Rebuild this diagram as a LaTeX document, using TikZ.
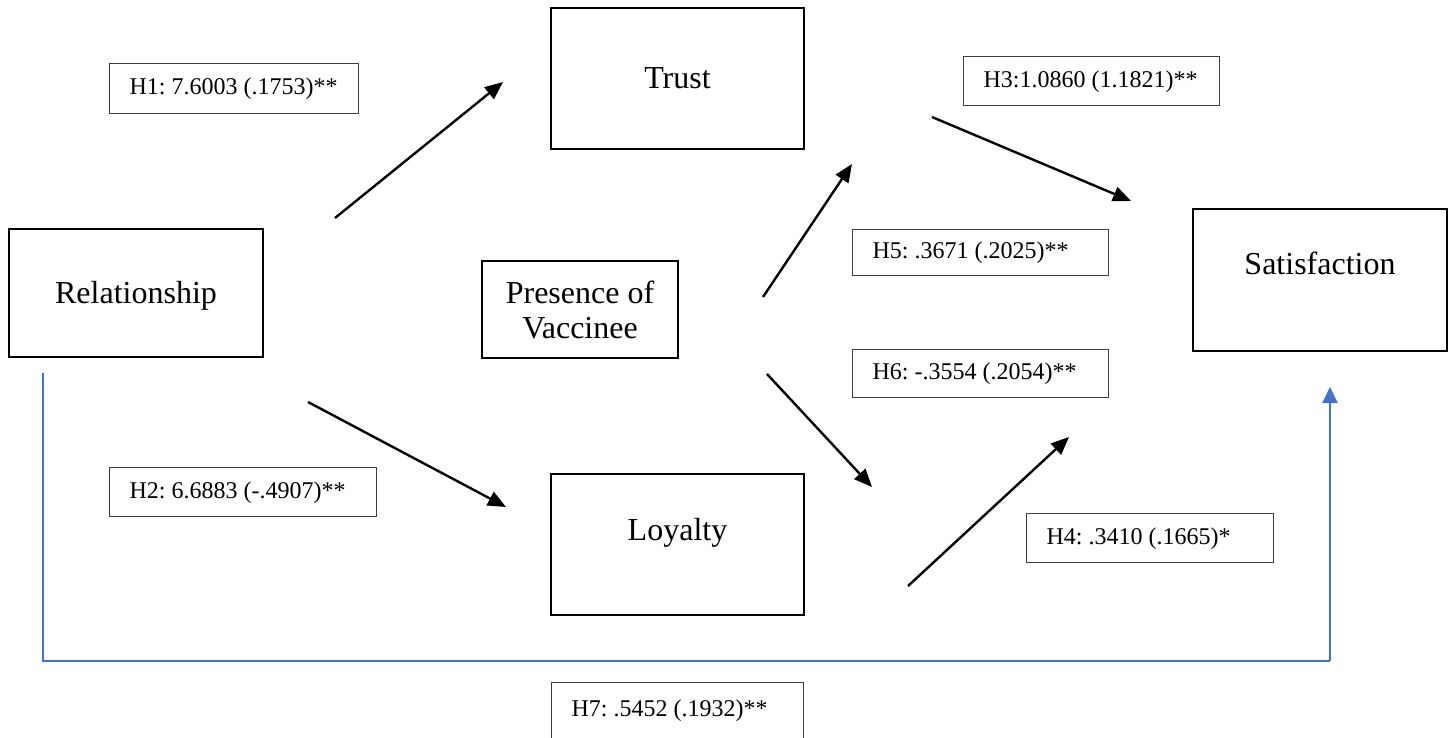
\documentclass[tikz,border=0pt]{standalone}
\usepackage{fontspec}
\setmainfont{Liberation Serif}
\usetikzlibrary{arrows.meta}
\definecolor{officeblue}{HTML}{4472C4}
\frenchspacing
\newcommand{\hyplab}[2]{\makebox[#1][l]{#2}}
\begin{document}
\begin{tikzpicture}[x=0.5pt,y=-0.5pt,
  mainbox/.style={draw, line width=1.4pt, font=\fontsize{16}{17.5}\selectfont, inner sep=0pt, align=center},
  hypbox/.style={draw=black!75, line width=0.65pt, anchor=north west, font=\fontsize{12}{14}\selectfont,
    inner xsep=10pt, inner ysep=0pt, text height=8pt, text depth=2pt},
  arrowline/.style={line width=1.2pt, -{Triangle[length=9pt,width=7.5pt]}},
  bluethin/.style={draw=officeblue, line width=0.6pt},
  bluearrow/.style={draw=officeblue, line width=1pt, -{Triangle[length=8pt,width=7.5pt]}, color=officeblue}
]
\useasboundingbox (0,0) rectangle (1452,738);
\clip (0,0) rectangle (1452,738);

% main boxes
\node[mainbox, minimum width=127pt, minimum height=64pt, text height=11pt, text depth=1pt] (rel) at (136,293) {Relationship};
\node[mainbox, minimum width=126.5pt, minimum height=70.5pt, text height=11pt, text depth=1pt] (trust) at (677.5,78.5) {Trust};
\node[mainbox, minimum width=98pt, minimum height=48.5pt] (pres) at (580,309.5) {Presence of\\Vaccinee};
\node[mainbox, minimum width=127pt, minimum height=71pt, text height=11pt, text depth=16.5pt] (sat) at (1320,280) {Satisfaction};
\node[mainbox, minimum width=126.5pt, minimum height=70.5pt, text height=11pt, text depth=15.5pt] (loy) at (677.5,544.5) {Loyalty};

% hypothesis labels
\node[hypbox, minimum height=25pt] (h1) at (109,63) {\hyplab{104.5pt}{H1: 7.6003 (.1753)**}};
\node[hypbox, minimum height=24.5pt] (h2) at (109,467) {\hyplab{113.5pt}{H2: 6.6883 (-.4907)**}};
\node[hypbox, minimum height=24.5pt] (h3) at (963,56) {\hyplab{108pt}{H3:1.0860 (1.1821)**}};
\node[hypbox, minimum height=24.5pt] (h4) at (1026,513) {\hyplab{103.5pt}{H4: .3410 (.1665)*}};
\node[hypbox, minimum height=23pt] (h5) at (852,229) {\hyplab{108pt}{H5: .3671 (.2025)**}};
\node[hypbox, minimum height=24pt] (h6) at (852,349) {\hyplab{108pt}{H6: -.3554 (.2054)**}};
\node[hypbox, minimum height=31.5pt, text height=9pt, text depth=6.5pt] (h7) at (551,682) {\hyplab{106pt}{H7: .5452 (.1932)**}};

% arrow end points
\coordinate (a1s) at (335,218); \coordinate (a1e) at (503,82);
\coordinate (a2s) at (308,402); \coordinate (a2e) at (506,507);
\coordinate (a3s) at (932,117); \coordinate (a3e) at (1131,201);
\coordinate (a5s) at (763,297); \coordinate (a5e) at (852,164);
\coordinate (a6s) at (767,374); \coordinate (a6e) at (872,487);
\coordinate (a4s) at (908,586); \coordinate (a4e) at (1069,437);

\draw[arrowline] (a1s) -- (a1e);
\draw[arrowline] (a2s) -- (a2e);
\draw[arrowline] (a3s) -- (a3e);
\draw[arrowline] (a5s) -- (a5e);
\draw[arrowline] (a6s) -- (a6e);
\draw[arrowline] (a4s) -- (a4e);

% blue connector
\coordinate (b0) at (43,373);
\coordinate (b1) at (43,661);
\coordinate (b2) at (1330,661);
\coordinate (b3) at (1330,387);
\draw[bluethin] (b0) -- (b1) -- (b2);
\draw[bluearrow] (b2) -- (b3);
\end{tikzpicture}
\end{document}
